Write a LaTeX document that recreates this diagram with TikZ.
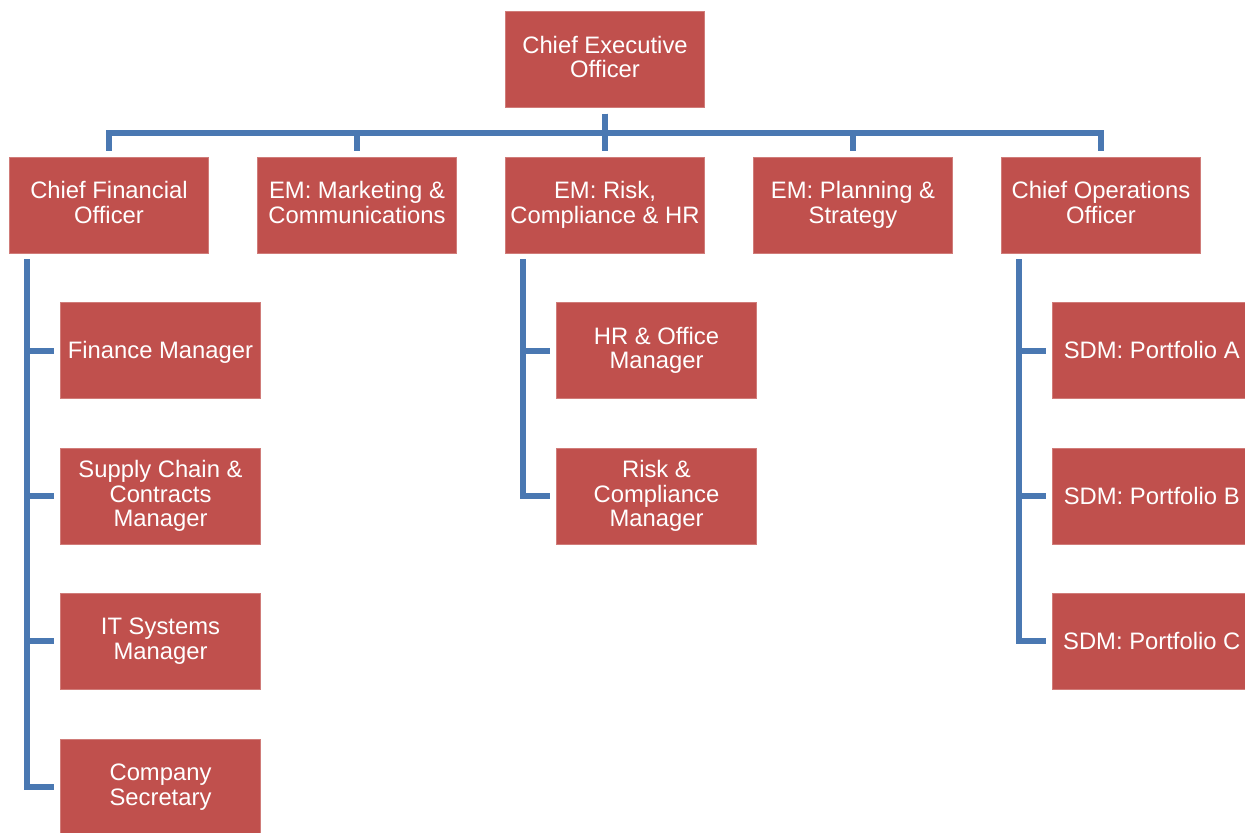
\documentclass[tikz,border=0pt]{standalone}
\usepackage{fontspec}
\setmainfont{Liberation Sans}
\definecolor{boxred}{HTML}{C0504D}
\definecolor{lineblue}{HTML}{4A78B2}
\tikzset{
  post/.style={fill=boxred, draw=boxred!75!white, line width=0.4pt, text=white,
    minimum width=99.75pt, minimum height=48pt, inner sep=0pt, align=center,
    font=\fontsize{11.9}{12.4}\selectfont,
    execute at begin node={\rule{0pt}{10.6pt}},
    execute at end node={\rule[-2.6pt]{0pt}{2.6pt}}},
  link/.style={draw=lineblue, line width=3pt, line join=miter}
}

\begin{document}
\begin{tikzpicture}[x=0.5pt,y=-0.5pt]
    \fill[white] (0,0) rectangle (1245,832);
    \useasboundingbox (0,0) rectangle (1245,832);
    \clip (0,0) rectangle (1245,832);
    % top
    \node[post] (ceo) at (605,59.5) {Chief Executive\\Officer};
    % second row
    \node[post] (cfo) at (109,205) {Chief Financial\\Officer};
    \node[post] (emmc) at (357,205) {EM: Marketing \&\\Communications};
    \node[post] (emrc) at (605,205) {EM: Risk,\\Compliance \& HR};
    \node[post] (emps) at (853,205) {EM: Planning \&\\Strategy};
    \node[post] (coo) at (1101,205) {Chief Operations\\Officer};
    % under cfo
    \node[post] (finm) at (160.5,350.5) {Finance Manager};
    \node[post] (supm) at (160.5,496) {Supply Chain \&\\Contracts\\Manager};
    \node[post] (itm) at (160.5,641) {IT Systems\\Manager};
    \node[post] (csec) at (160.5,787) {Company\\Secretary};
    % under em risk
    \node[post] (hrm) at (656.5,350.5) {HR \& Office\\Manager};
    \node[post] (rcm) at (656.5,496) {Risk \&\\Compliance\\Manager};
    % under coo
    \node[post] (sdma) at (1151.75,350.5) {SDM: Portfolio A};
    \node[post] (sdmb) at (1151.75,496) {SDM: Portfolio B};
    \node[post] (sdmc) at (1151.75,641) {SDM: Portfolio C};
    % connectors
    \foreach \c in {cfo,emmc,emrc,emps,coo}
        \draw[link] ([yshift=-3pt]ceo.south) -- ++(0,-9.5pt) -| ([yshift=3pt]\c.north);
    \foreach \c in {finm,supm,itm,csec}
        \draw[link] ([xshift=9pt,yshift=-3pt]cfo.south west) |- ([xshift=-3pt]\c.west);
    \foreach \c in {hrm,rcm}
        \draw[link] ([xshift=9pt,yshift=-3pt]emrc.south west) |- ([xshift=-3pt]\c.west);
    \foreach \c in {sdma,sdmb,sdmc}
        \draw[link] ([xshift=9pt,yshift=-3pt]coo.south west) |- ([xshift=-3pt]\c.west);
\end{tikzpicture}
\end{document}
